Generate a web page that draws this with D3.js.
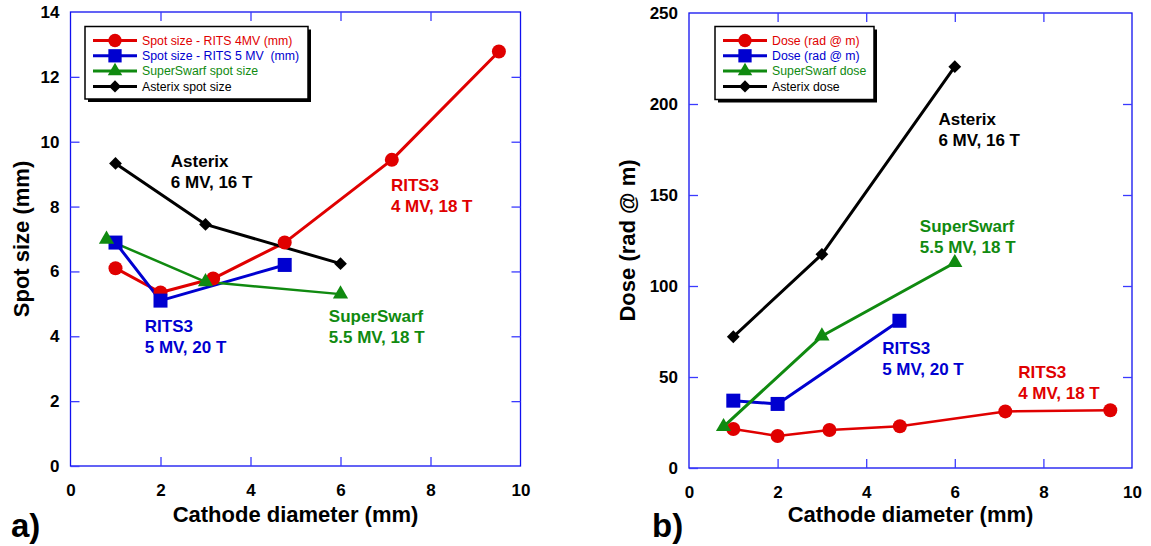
<!DOCTYPE html>
<html><head><meta charset="utf-8">
<script src="https://cdn.jsdelivr.net/npm/d3@7"></script>
<style>body{margin:0;background:#fff}svg{display:block;font-family:"Liberation Sans",Arial,sans-serif}</style>
</head><body><svg id="c" width="1151" height="546"></svg>
<script>
// ---- data ----
const xTicks = [0,2,4,6,8,10];
const yTicksA = [0,2,4,6,8,10,12,14];
const yTicksB = [0,50,100,150,200,250];

// Panel a) spot size
const rits4X_a = [1.0, 2.0, 3.17, 4.76, 7.14, 9.52];
const rits4Y_a = [6.1, 5.35, 5.78, 6.89, 9.44, 12.78];
const rits5X_a = [1.0, 2.0, 4.76];
const rits5Y_a = [6.89, 5.1, 6.2];
const swarfX_a = [0.8, 3.0, 6.0];
const swarfY_a = [6.99, 5.68, 5.3];
const astX_a = [1.0, 3.0, 6.0];
const astY_a = [9.33, 7.45, 6.24];

// Panel b) dose
const rits4X_b = [1.0, 2.0, 3.17, 4.76, 7.14, 9.51];
const rits4Y_b = [21.4, 17.6, 20.9, 22.9, 31.1, 31.7];
const rits5X_b = [1.0, 2.0, 4.75];
const rits5Y_b = [37.0, 35.2, 80.9];
const swarfX_b = [0.78, 3.0, 6.0];
const swarfY_b = [22.7, 72.5, 112.8];
const astX_b = [1.0, 3.0, 6.0];
const astY_b = [72.1, 117.4, 220.5];

const legendA = ["Spot size - RITS 4MV (mm)", "Spot size - RITS 5 MV  (mm)", "SuperSwarf spot size", "Asterix spot size"];
const legendB = ["Dose (rad @ m)", "Dose (rad @ m)", "SuperSwarf dose", "Asterix dose"];

const RED="#e00000", BLUE="#0000d0", GREEN="#108a10", BLACK="#000000", FRAME="#1010f0";

const svg = d3.select("#c");

function marker(g, type, x, y, color, scale){
  scale = scale||1;
  let sym, size, rot=0;
  if(type==="circle"){sym=d3.symbolCircle; size=Math.PI*49*scale;}
  else if(type==="square"){sym=d3.symbolSquare; size=196*scale;}
  else if(type==="triangle"){sym=d3.symbolTriangle; size=100*scale;}
  else {sym=d3.symbolSquare; size=82*scale; rot=45;}
  g.append("path").attr("d", d3.symbol(sym,size)())
    .attr("transform",`translate(${x},${y}) rotate(${rot})`)
    .attr("fill",color);
}

function panel(opt){
  const x = d3.scaleLinear().domain([0,10]).range(opt.xr);
  const y = d3.scaleLinear().domain(opt.yd).range(opt.yr);
  const g = svg.append("g");
  const [x0,x1]=opt.xr, [y0,y1]=opt.yr;
  // frame
  g.append("rect").attr("x",x0).attr("y",y1).attr("width",x1-x0).attr("height",y0-y1)
    .attr("fill","none").attr("stroke",FRAME).attr("stroke-width",1.3);
  const tl=9;
  const bottom = g.append("g").attr("transform",`translate(0,${y0})`)
    .call(d3.axisBottom(x).tickValues(xTicks).tickSize(-tl).tickPadding(18).tickFormat(d3.format("d")));
  const top = g.append("g").attr("transform",`translate(0,${y1})`)
    .call(d3.axisTop(x).tickValues(xTicks).tickSize(-tl).tickFormat(""));
  const left = g.append("g").attr("transform",`translate(${x0},0)`)
    .call(d3.axisLeft(y).tickValues(opt.yt).tickSize(-tl).tickPadding(11).tickFormat(d3.format("d")));
  const right = g.append("g").attr("transform",`translate(${x1},0)`)
    .call(d3.axisRight(y).tickValues(opt.yt).tickSize(-tl).tickFormat(""));
  [bottom,top,left,right].forEach(a=>{
    a.select(".domain").remove();
    a.selectAll(".tick line").attr("stroke","#3a3aff").attr("stroke-width",1.3);
    a.selectAll(".tick text").attr("fill","#000").attr("font-size",17).attr("font-weight","bold")
      .attr("font-family",'"Liberation Sans",Arial,sans-serif');
  });
  bottom.selectAll(".tick line").filter(d=>d===0||d===10).remove();
  top.selectAll(".tick line").filter(d=>d===0||d===10).remove();
  left.selectAll(".tick line").filter((d,i)=>i===opt.yt.length-1).remove();
  right.selectAll(".tick line").filter((d,i)=>i===opt.yt.length-1||i===0).remove();

  // series
  const line = d3.line().x(d=>x(d[0])).y(d=>y(d[1]));
  opt.series.forEach(s=>{
    const pts = s.xs.map((v,i)=>[v,s.ys[i]]);
    g.append("path").attr("d",line(pts)).attr("fill","none").attr("stroke",s.color)
      .attr("stroke-width",s.w).attr("stroke-linejoin","round");
  });
  opt.series.forEach(s=>{
    s.xs.forEach((v,i)=>marker(g,s.type,x(v),y(s.ys[i]),s.color,s.ms||1));
  });

  // annotations
  opt.notes.forEach(n=>{
    const t = g.append("text").attr("x",x(n.x)).attr("y",y(n.y)).attr("fill",n.color)
      .attr("font-size",17).attr("font-weight","bold");
    t.append("tspan").attr("x",x(n.x)).text(n.l1);
    t.append("tspan").attr("x",x(n.x)).attr("dy",21).text(n.l2);
  });

  // axis titles
  g.append("text").attr("x",(x0+x1)/2).attr("y",opt.xtY).attr("text-anchor","middle")
    .attr("font-size",22).attr("font-weight","bold").text("Cathode diameter (mm)");
  g.append("text").attr("transform",`translate(${opt.ytX},${(y0+y1)/2}) rotate(-90)`)
    .attr("text-anchor","middle").attr("font-size",22).attr("font-weight","bold").text(opt.ytitle);
  g.append("text").attr("x",opt.lab[0]).attr("y",opt.lab[1]).attr("font-size",33)
    .attr("font-weight","bold").text(opt.label);

  // legend
  const L = opt.leg;
  const lg = g.append("g");
  lg.append("rect").attr("x",L.x+3).attr("y",L.y+3).attr("width",L.w).attr("height",L.h).attr("fill","#000");
  lg.append("rect").attr("x",L.x).attr("y",L.y).attr("width",L.w).attr("height",L.h)
    .attr("fill","#fff").attr("stroke","#000").attr("stroke-width",1.5);
  opt.series.forEach((s,i)=>{
    const cy = L.y + 14 + i*15.3;
    lg.append("line").attr("x1",L.x+8).attr("x2",L.x+52).attr("y1",cy).attr("y2",cy)
      .attr("stroke",s.color).attr("stroke-width",3);
    marker(lg,s.type,L.x+30,cy,s.color,0.9);
    lg.append("text").attr("x",L.x+57).attr("y",cy).attr("dy","0.35em").attr("fill",s.color)
      .attr("font-size",12.3).style("white-space","pre").text(opt.legText[i]);
  });
}

panel({
  xr:[70.5,520.5], yd:[0,14], yr:[466,12], yt:yTicksA,
  series:[
    {xs:rits4X_a, ys:rits4Y_a, color:RED, type:"circle", w:3},
    {xs:rits5X_a, ys:rits5Y_a, color:BLUE, type:"square", w:3},
    {xs:swarfX_a, ys:swarfY_a, color:GREEN, type:"triangle", w:2.5},
    {xs:astX_a, ys:astY_a, color:BLACK, type:"diamond", w:3}
  ],
  notes:[
    {x:2.23, y:9.23, color:BLACK, l1:"Asterix", l2:"6 MV, 16 T"},
    {x:7.12, y:8.49, color:RED, l1:"RITS3", l2:"4 MV, 18 T"},
    {x:1.65, y:4.14, color:BLUE, l1:"RITS3", l2:"5 MV, 20 T"},
    {x:5.74, y:4.43, color:GREEN, l1:"SuperSwarf", l2:"5.5 MV, 18 T"}
  ],
  xtY:521.7, ytX:28.5, ytitle:"Spot size (mm)", label:"a)", lab:[11,537],
  leg:{x:85,y:26.5,w:223,h:72.5}, legText:legendA
});

panel({
  xr:[689,1132], yd:[0,250], yr:[468,13], yt:yTicksB,
  series:[
    {xs:rits4X_b, ys:rits4Y_b, color:RED, type:"circle", w:2.5},
    {xs:rits5X_b, ys:rits5Y_b, color:BLUE, type:"square", w:3},
    {xs:swarfX_b, ys:swarfY_b, color:GREEN, type:"triangle", w:3},
    {xs:astX_b, ys:astY_b, color:BLACK, type:"diamond", w:3}
  ],
  notes:[
    {x:5.63, y:188.5, color:BLACK, l1:"Asterix", l2:"6 MV, 16 T"},
    {x:5.21, y:129.5, color:GREEN, l1:"SuperSwarf", l2:"5.5 MV, 18 T"},
    {x:4.36, y:62.6, color:BLUE, l1:"RITS3", l2:"5 MV, 20 T"},
    {x:7.43, y:49.3, color:RED, l1:"RITS3", l2:"4 MV, 18 T"}
  ],
  xtY:521.7, ytX:635, ytitle:"Dose (rad @ m)", label:"b)", lab:[652,537],
  leg:{x:715,y:26.5,w:159,h:73}, legText:legendB
});
</script></body></html>
